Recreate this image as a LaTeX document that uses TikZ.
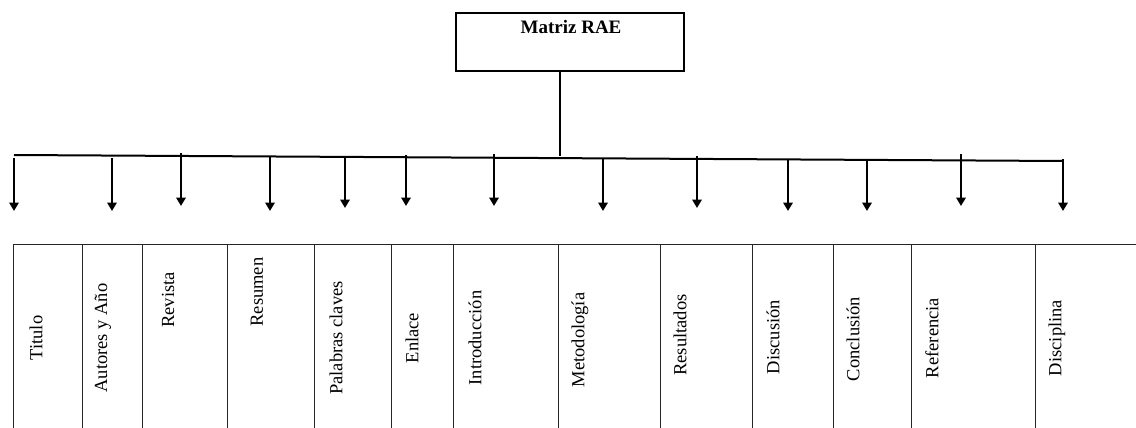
\documentclass[tikz,border=0pt]{standalone}
\usepackage{fontspec}
\setmainfont{Liberation Serif}
\usetikzlibrary{arrows.meta}
\tikzset{
  flecha/.style={line width=2pt, -{Triangle[width=9.5pt,length=8.5pt]}},
  campo/.style={rotate=90, inner sep=0pt, font=\fontsize{18.5}{20}\selectfont},
  tabla/.style={line width=1pt, draw=black!85}
}
\begin{document}
\begin{tikzpicture}[x=1pt, y=-1pt]
\useasboundingbox (0,0) rectangle (1136,428);
% caja principal
\node[draw, line width=1.3pt, minimum width=228pt, minimum height=58pt, inner sep=0pt] (rae) at (570,42){};
\node[font=\fontsize{19}{20}\selectfont\bfseries] (raetxt) at (571,27){Matriz RAE};
% barra horizontal
\coordinate (barL) at (14,155);
\coordinate (barR) at (1063,161);
\coordinate (barM) at (560,156);
\draw[line width=2pt](barL) -- (barR);
\draw[line width=2pt](rae.south -| barM) -- (barM);
% flechas
\coordinate (a1) at (14,158);   \coordinate (b1) at (14,211);
\coordinate (a2) at (112,158);  \coordinate (b2) at (112,211);
\coordinate (a3) at (181,153);  \coordinate (b3) at (181,206);
\coordinate (a4) at (270,157);  \coordinate (b4) at (270,211);
\coordinate (a5) at (345,156);  \coordinate (b5) at (345,208);
\coordinate (a6) at (406,155);  \coordinate (b6) at (406,206);
\coordinate (a7) at (494,154);  \coordinate (b7) at (494,206);
\coordinate (a8) at (603,159);  \coordinate (b8) at (603,211);
\coordinate (a9) at (697,156);  \coordinate (b9) at (697,208);
\coordinate (a10) at (788,159); \coordinate (b10) at (788,211);
\coordinate (a11) at (867,159); \coordinate (b11) at (867,211);
\coordinate (a12) at (961,154); \coordinate (b12) at (961,206);
\coordinate (a13) at (1063,159);\coordinate (b13) at (1063,211);
\draw[flecha](a1) -- (b1);
\draw[flecha](a2) -- (b2);
\draw[flecha](a3) -- (b3);
\draw[flecha](a4) -- (b4);
\draw[flecha](a5) -- (b5);
\draw[flecha](a6) -- (b6);
\draw[flecha](a7) -- (b7);
\draw[flecha](a8) -- (b8);
\draw[flecha](a9) -- (b9);
\draw[flecha](a10) -- (b10);
\draw[flecha](a11) -- (b11);
\draw[flecha](a12) -- (b12);
\draw[flecha](a13) -- (b13);
% tabla
\draw[tabla] (13,244) -- (1136,244);
\draw[tabla] (13,244) -- (13,428) (82,244) -- (82,428) (142,244) -- (142,428)
  (227,244) -- (227,428) (314,244) -- (314,428) (391,244) -- (391,428)
  (453,244) -- (453,428) (558,244) -- (558,428) (660,244) -- (660,428)
  (752,244) -- (752,428) (833,244) -- (833,428) (911,244) -- (911,428)
  (1035,244) -- (1035,428);
\node[campo] (c1) at (36,338){Titulo};
\node[campo] (c2) at (103,338){Autores y Año};
\node[campo] (c3) at (168,300){Revista};
\node[campo] (c4) at (257,292){Resumen};
\node[campo] (c5) at (336,338){Palabras claves};
\node[campo] (c6) at (412,338){Enlace};
\node[campo] (c7) at (475,338){Introducción};
\node[campo] (c8) at (580,340){Metodología};
\node[campo] (c9) at (680,335){Resultados};
\node[campo] (c10) at (773,337){Discusión};
\node[campo] (c11) at (853,339){Conclusión};
\node[campo] (c12) at (932,338){Referencia};
\node[campo] (c13) at (1057,338){Disciplina};
\end{tikzpicture}
\end{document}
